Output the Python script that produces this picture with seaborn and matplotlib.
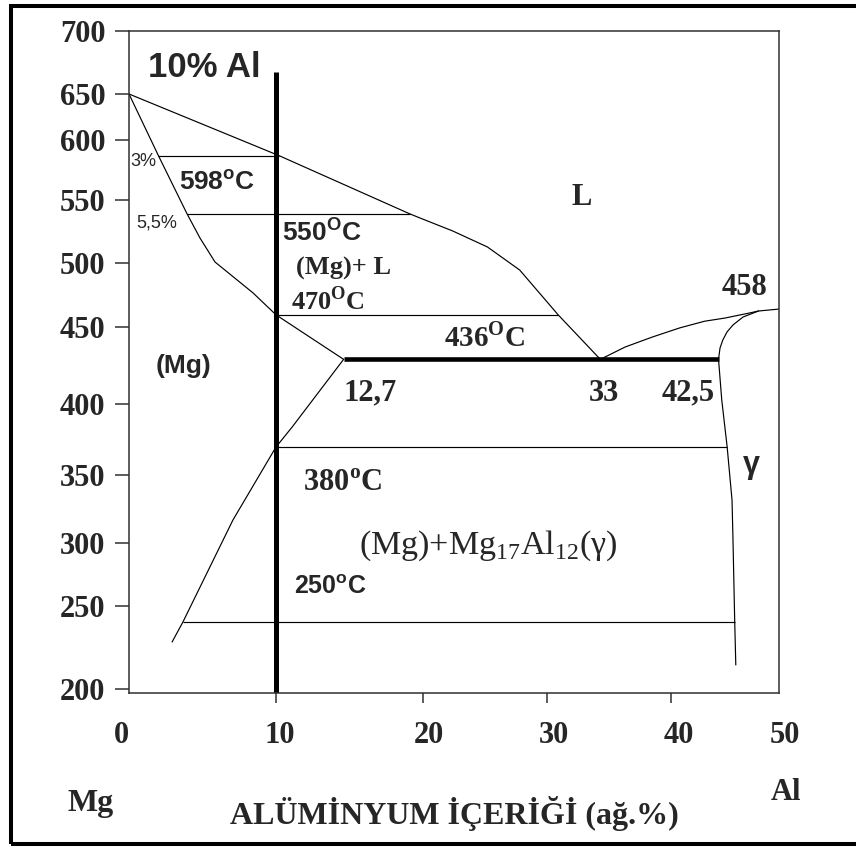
import numpy as np
import matplotlib
matplotlib.use("Agg")
import matplotlib.pyplot as plt
import seaborn as sns
from matplotlib.patches import Rectangle
from matplotlib.transforms import ScaledTranslation

# Mg-Al phase diagram (wt.% Al, deg C)
x_ticks = [0, 10, 20, 30, 40, 50]
y_ticks = [200, 250, 300, 350, 400, 450, 500, 550, 600, 650, 700]

# the original axes are hand drawn and not evenly spaced:
# distance of every tick from the axis origin, in px
x_tick_px = [0, 147, 294, 418, 542, 650]
y_tick_px = [4, 87, 150, 218, 289, 366, 430, 493, 553, 599, 662]

liq_left_x = [0, 10.2, 19.1, 19.8, 22.4, 25.2, 27.8, 30.9, 34.3]
liq_left_y = [650, 587, 539, 535.7, 525.4, 512.7, 494.5, 459.5, 429]

liq_right_x = [34.3, 36.3, 38.5, 40.8, 43.1, 45.0, 47.3, 48.1, 50.0]
liq_right_y = [429, 437, 443.5, 449.4, 454.5, 457, 461, 462.5, 464]

solidus_x = [0, 2.0, 3.95, 4.83, 5.85, 8.44, 10.0, 14.6]
solidus_y = [650, 587, 539, 519.8, 500.8, 476.6, 459.5, 429]

solvus_x = [14.6, 11.1, 10.0, 7.07, 3.67, 2.93]
solvus_y = [429, 383.8, 369.7, 316.9, 240.4, 228.3]

gamma_x = [48.1, 46.67, 45.74, 45.19, 44.8, 44.54, 44.4, 44.7, 45.2, 45.65, 45.74, 45.9, 46.0]
gamma_y = [462.5, 457.8, 451.6, 446.8, 441.6, 436.4, 429, 402.6, 369.7, 331.6, 302.2, 240.4, 214.5]

# isotherms: 598, 550, 470, 380, 250 (as drawn)
iso_y = [587, 539, 459.5, 369.7, 240.4]
iso_x0 = [2.0, 3.95, 10.0, 10.0, 3.67]
iso_x1 = [10.2, 19.1, 30.9, 45.2, 45.9]

eutectic_y = 429
eutectic_x = [14.6, 44.4]
alloy_x = 10
alloy_top = 667.5


def piecewise(vals, px):
    vals = np.asarray(vals, float)
    px = np.asarray(px, float)

    def make(a, b):
        lo = (b[1] - b[0]) / (a[1] - a[0])
        hi = (b[-1] - b[-2]) / (a[-1] - a[-2])

        def f(v):
            v = np.asarray(v, float)
            out = np.interp(v, a, b)
            out = np.where(v < a[0], b[0] + (v - a[0]) * lo, out)
            out = np.where(v > a[-1], b[-1] + (v - a[-1]) * hi, out)
            return out
        return f
    return make(vals, px), make(px, vals)


sns.set_style("white")
plt.rcParams["font.family"] = ["Liberation Serif", "DejaVu Serif"]
plt.rcParams["mathtext.fontset"] = "custom"
plt.rcParams["mathtext.rm"] = "Liberation Serif"
plt.rcParams["mathtext.bf"] = "Liberation Serif:bold"
plt.rcParams["mathtext.sf"] = "Liberation Sans:bold"
SANS = ["Liberation Sans", "DejaVu Sans"]

fig = plt.figure(figsize=(8.56, 8.47), dpi=100)
ax = fig.add_axes([129 / 856, (847 - 693) / 847, 650 / 856, 662 / 847])

thin = dict(color="black", linewidth=0.85, sort=False, estimator=None, ax=ax)
sns.lineplot(x=liq_left_x, y=liq_left_y, **thin)
sns.lineplot(x=liq_right_x, y=liq_right_y, **thin)
sns.lineplot(x=solidus_x, y=solidus_y, **thin)
sns.lineplot(x=solvus_x, y=solvus_y, **thin)
sns.lineplot(x=gamma_x, y=gamma_y, **thin)
ax.hlines(iso_y, iso_x0, iso_x1, color="black", linewidth=0.85)
ax.hlines(eutectic_y, eutectic_x[0], eutectic_x[1], color="black", linewidth=3.3)

fx = piecewise(x_ticks, x_tick_px)
fy = piecewise(y_ticks, y_tick_px)
ax.set_xscale("function", functions=fx)
ax.set_yscale("function", functions=fy)
ax.set_xlim(0, 50)
y_bottom = float(fy[1](0))
ax.set_ylim(y_bottom, 700)
ax.vlines(alloy_x, y_bottom, alloy_top, color="black", linewidth=3.6)

for s in ax.spines.values():
    s.set_linewidth(1.1)
    s.set_color("#303030")

ax.set_xticks(x_ticks, labels=[str(t) for t in x_ticks], fontweight="bold")
ax.set_yticks(y_ticks, labels=[str(t) for t in y_ticks], fontweight="bold")
ax.tick_params(axis="x", bottom=True, direction="out", length=7, width=1.1,
               pad=13, labelsize=22, color="#303030")
ax.tick_params(axis="y", left=True, direction="out", length=10, width=1.1,
               pad=7, labelsize=22, color="#303030")
ticks = ax.xaxis.get_major_ticks()
ticks[0].tick1line.set_visible(False)
ticks[-1].tick1line.set_visible(False)
for t, dx in zip(ticks, [-8, 4, 6, 7, 8, 6]):
    t.label1.set_transform(t.label1.get_transform()
                           + ScaledTranslation(dx / 100, 0, fig.dpi_scale_trans))

ax.set_xlabel("ALÜMİNYUM İÇERİĞİ (ağ.%)", fontsize=23, fontweight="bold",
              labelpad=33)
ax.set_ylabel("")

kw = dict(ha="center", va="center")
ax.text(5.1, 671, "10% Al", fontsize=25, fontweight="bold", family=SANS, **kw)
ax.text(1.0, 582, "3%", fontsize=13, family=SANS, **kw)
ax.text(1.9, 532, "5,5%", fontsize=13, family=SANS, **kw)
ax.text(6.0, 565, r"598$^{\mathsf{o}}$C", fontsize=19, fontweight="bold", family=SANS, **kw)
ax.text(13.1, 525, r"550$^{\mathsf{O}}$C", fontsize=19, fontweight="bold", family=SANS, **kw)
ax.text(14.6, 496, "(Mg)+ L", fontsize=19, fontweight="bold", **kw)
ax.text(13.5, 471, r"470$^{\mathbf{O}}$C", fontsize=19, fontweight="bold", **kw)
ax.text(25.0, 443, r"436$^{\mathbf{O}}$C", fontsize=21, fontweight="bold", **kw)
ax.text(32.8, 552, "L", fontsize=22, fontweight="bold", **kw)
ax.text(46.8, 481, "458", fontsize=22, fontweight="bold", **kw)
ax.text(3.7, 425, "(Mg)", fontsize=19, fontweight="bold", family=SANS, **kw)
ax.text(16.4, 407, "12,7", fontsize=22, fontweight="bold", **kw)
ax.text(34.6, 407, "33", fontsize=22, fontweight="bold", **kw)
ax.text(41.6, 407, "42,5", fontsize=22, fontweight="bold", **kw)
ax.text(14.5, 344, r"380$^{\mathbf{o}}$C", fontsize=22, fontweight="bold", **kw)
ax.text(47.4, 357, "γ", fontsize=22, fontweight="bold", family=SANS, **kw)
ax.text(25.3, 298, r"(Mg)+Mg$_{\mathrm{17}}$Al$_{\mathrm{12}}$(γ)", fontsize=24.5, **kw)
ax.text(13.7, 265, r"250$^{\mathsf{o}}$C", fontsize=18, fontweight="bold", family=SANS, **kw)

fig.text(91 / 856, 1 - 803 / 847, "Mg", fontsize=23, fontweight="bold", **kw)
fig.text(786 / 856, 1 - 792 / 847, "Al", fontsize=22, fontweight="bold", **kw)

fig.add_artist(Rectangle((11 / 856, 3 / 847), 2.0, 838 / 847, transform=fig.transFigure,
                         fill=False, edgecolor="black", linewidth=2.9, clip_on=False))

fig.savefig("out.png", dpi=100)
